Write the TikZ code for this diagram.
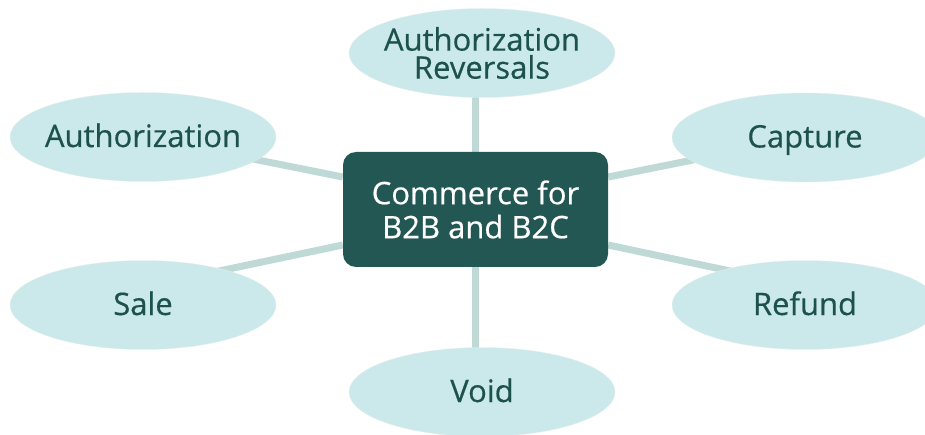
\documentclass[tikz,border=0pt]{standalone}
\usepackage{fontspec}
\setmainfont{Open Sans}[FakeBold=0.5]
\usetikzlibrary{shapes.geometric,backgrounds,calc}

\definecolor{leaffill}{HTML}{CBE9EA}
\definecolor{leaftext}{HTML}{1D524C}
\definecolor{hubfill}{HTML}{235753}
\definecolor{linkcol}{HTML}{BFD9D6}

\tikzset{
  leaf/.style={ellipse, fill=leaffill, draw=leaffill!85!black!30, line width=0.3pt,
    minimum width=266pt, minimum height=89pt, inner xsep=-50pt, inner ysep=0pt,
    text=leaftext, font=\fontsize{31}{28}\selectfont, align=center},
  oneline/.style={text height=28pt, text depth=8pt},
  hub/.style={rectangle, rounded corners=13pt, fill=hubfill, text=white,
    minimum width=265pt, minimum height=115pt, inner sep=0pt,
    font=\fontsize{31}{34}\selectfont, align=center},
  link/.style={draw=linkcol, line width=7pt}
}

\begin{document}
\begin{tikzpicture}[x=1pt,y=-1pt]
  \useasboundingbox (0,0) rectangle (925,435);
  \clip (0,0) rectangle (925,435);

  % central hub
  \node[hub] (hub) at (475.5,209.5) {Commerce for\\B2B and B2C};

  % surrounding operations
  \node[leaf] (rev)             at (482,53)    {Authorization\\Reversals};
  \node[leaf,oneline] (auth)    at (143,137)   {Authorization};
  \node[leaf,oneline] (sale)    at (143,305)   {Sale};
  \node[leaf,oneline] (capture) at (805,137.5) {Capture};
  \node[leaf,oneline] (refund)  at (805,305)   {Refund};
  \node[leaf,oneline] (void)    at (482,392)   {Void};

  % spokes, kept behind the shapes
  \begin{scope}[on background layer]
    \draw[link] (hub.north) -- (hub.north |- rev.center);
    \draw[link] (hub.south) -- (hub.south |- void.center);
    \draw[link] ([yshift=32.5pt]hub.west) -- (auth.center);
    \draw[link] ([yshift=32.5pt]hub.east) -- (capture.center);
    \draw[link] ([yshift=-35.5pt]hub.west) -- ([yshift=18pt]sale.center);
    \draw[link] ([yshift=-35.5pt]hub.east) -- ([yshift=18pt]refund.center);
  \end{scope}
\end{tikzpicture}
\end{document}
